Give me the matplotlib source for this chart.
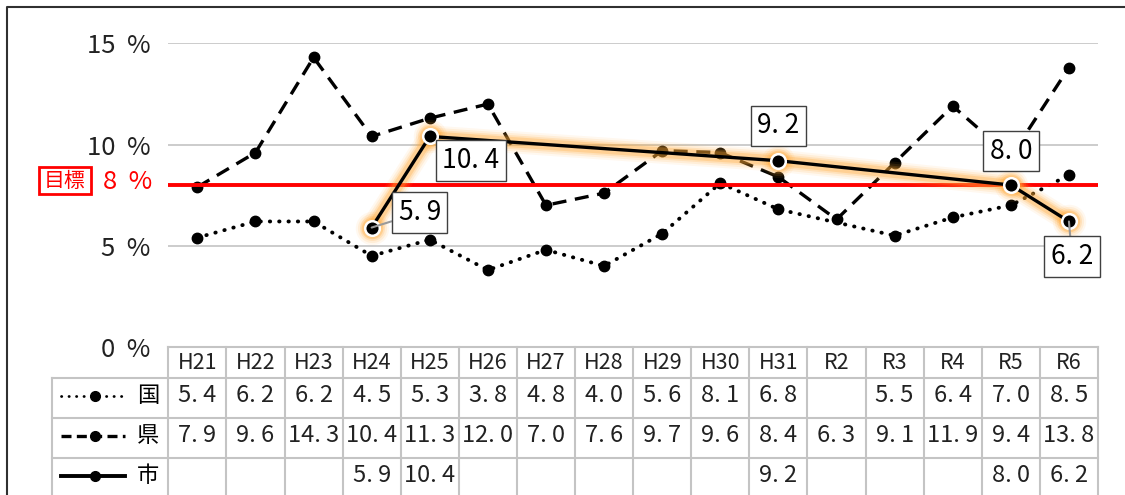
import matplotlib
matplotlib.use("Agg")
import matplotlib.pyplot as plt
from matplotlib.patches import Rectangle
from matplotlib.lines import Line2D
import numpy as np

# ---- data -------------------------------------------------------------
years = ["H21", "H22", "H23", "H24", "H25", "H26", "H27", "H28",
         "H29", "H30", "H31", "R2", "R3", "R4", "R5", "R6"]
kuni = [5.4, 6.2, 6.2, 4.5, 5.3, 3.8, 4.8, 4.0, 5.6, 8.1, 6.8,
        None, 5.5, 6.4, 7.0, 8.5]
ken = [7.9, 9.6, 14.3, 10.4, 11.3, 12.0, 7.0, 7.6, 9.7, 9.6, 8.4,
       6.3, 9.1, 11.9, 9.4, 13.8]
shi = [None, None, None, 5.9, 10.4, None, None, None, None, None, 9.2,
       None, None, None, 8.0, 6.2]
series_names = ["国", "県", "市"]
target = 8
y_ticks = [0, 5, 10, 15]

plt.rcParams["font.family"] = ["Noto Sans CJK JP", "DejaVu Sans"]

W, H = 1125, 495
fig = plt.figure(figsize=(W / 100, H / 100), dpi=100)


def fx(px):
    return px / W


def fy(py):
    return 1 - py / H


def fmt(v):
    return f"{v:.1f}".replace(".", ". ")


# plot area in pixels
X0, X1 = 168.3, 1098.0
Y0, Y15 = 347.0, 43.3
ax = fig.add_axes([fx(X0), fy(Y0), fx(X1) - fx(X0), fy(Y15) - fy(Y0)])
n = len(years)
x = np.arange(n)
ax.set_xlim(-0.5, n - 0.5)
ax.set_ylim(0, 15)
for s in ax.spines.values():
    s.set_visible(False)
ax.set_xticks([])
ax.set_yticks(y_ticks)
ax.set_yticklabels([f"{t}  %" for t in y_ticks], fontsize=18.5,
                   color="#222222")
ax.tick_params(axis="y", length=0, pad=13)
for t in y_ticks[1:]:
    ax.axhline(t, color="#c8c8c8", lw=1.3, zorder=1)
ax.set_facecolor("none")


def present(vals):
    idx = [i for i, v in enumerate(vals) if v is not None]
    return np.array(idx), np.array([vals[i] for i in idx])


# 国 (dotted)
kx, ky = present(kuni)
ax.plot(kx, ky, color="black", lw=2.8, linestyle=(0, (0.1, 2.3)),
        dash_capstyle="round", zorder=3)
ax.plot(kx, ky, "o", color="black", ms=7.5, zorder=4)

# 県 (dashed)
jx, jy = present(ken)
ax.plot(jx, jy, color="black", lw=2.4, linestyle=(0, (4.2, 2.6)), zorder=3)
ax.plot(jx, jy, "o", color="black", ms=7.5, zorder=4)

# target line
ax.axhline(target, color="#ff0000", lw=2.8, zorder=5)

# 市 (solid, with orange glow)
sx, sy = present(shi)
for lw, a in [(16, 0.08), (13, 0.12), (10, 0.18), (7.5, 0.28)]:
    ax.plot(sx, sy, color="#ffa733", lw=lw, alpha=a, solid_capstyle="round",
            solid_joinstyle="round", zorder=6)
    ax.plot(sx, sy, "o", color="#ffa733", ms=lw + 8, alpha=a, mew=0,
            zorder=6)
ax.plot(sx, sy, color="black", lw=2.4, zorder=7)
ax.plot(sx, sy, "o", color="black", mec="white", mew=1.8, ms=10.5, zorder=8)

# data labels for 市
label_offsets = {3: (48, 15), 4: (41, -24), 10: (0, 35), 14: (0, 34),
                 15: (3, -35)}
leaders = {3, 15}
for i, v in zip(sx, sy):
    dx, dy = label_offsets[int(i)]
    kw = {}
    if int(i) in leaders:
        kw["arrowprops"] = dict(arrowstyle="-", color="#9a9a9a", lw=1.5,
                                shrinkA=0, shrinkB=0)
    ax.annotate(fmt(v), (i, v), xytext=(dx, dy), textcoords="offset pixels",
                ha="center", va="center", fontsize=19, color="black",
                bbox=dict(boxstyle="square,pad=0.25", fc="white",
                          ec="#404040", lw=1.0),
                zorder=9, annotation_clip=False, **kw)

# target label
fig.text(fx(152), fy(182), "8  %", ha="right", va="center", fontsize=18.5,
         color="#ff0000")
fig.text(fx(64.5), fy(181), "目標", ha="center", va="center", fontsize=15,
         color="#ff0000")
fig.add_artist(Rectangle((fx(38.5), fy(194)), fx(90.5) - fx(38.5),
                         fy(166.5) - fy(194), fill=False, ec="#ff0000",
                         lw=2.0, transform=fig.transFigure))

# ---- data table -------------------------------------------------------
grid_c = "#c4c4c4"
col_w = (X1 - X0) / n
row_y = [347, 377.5, 417.5, 457.5, 497.5]
label_x0 = 51.7


def hline(y, xa, xb):
    fig.add_artist(Line2D([fx(xa), fx(xb)], [fy(y), fy(y)], color=grid_c,
                          lw=1.5, transform=fig.transFigure))


def vline(xp, ya, yb):
    fig.add_artist(Line2D([fx(xp), fx(xp)], [fy(ya), fy(yb)], color=grid_c,
                          lw=1.5, transform=fig.transFigure))


hline(row_y[0], X0, X1)
for y in row_y[1:4]:
    hline(y, label_x0, X1)
for k in range(n + 1):
    vline(X0 + k * col_w, row_y[0], row_y[4])
vline(label_x0, row_y[1], row_y[4])

for k, yr in enumerate(years):
    fig.text(fx(X0 + (k + 0.5) * col_w), fy((row_y[0] + row_y[1]) / 2 + 1),
             yr, ha="center", va="center", fontsize=15.5, color="#222222")

rows = [kuni, ken, shi]
for r, vals in enumerate(rows):
    yc = (row_y[r + 1] + row_y[r + 2]) / 2 - 2
    for k, v in enumerate(vals):
        if v is None:
            continue
        fig.text(fx(X0 + (k + 0.5) * col_w), fy(yc), fmt(v),
                 ha="center", va="center", fontsize=17, color="#222222")

# legend keys in the label column
styles = [dict(lw=2.0, linestyle=(0, (0.1, 2.6)), dash_capstyle="round"),
          dict(lw=2.4, linestyle=(0, (3.0, 1.6))),
          dict(lw=2.8, linestyle="-")]
for r, (name, st) in enumerate(zip(series_names, styles)):
    yc = (row_y[r + 1] + row_y[r + 2]) / 2 - 2
    fig.add_artist(Line2D([fx(61), fx(125)], [fy(yc), fy(yc)], color="black",
                          transform=fig.transFigure, **st))
    fig.add_artist(Line2D([fx(95)], [fy(yc)], marker="o", color="black",
                          ms=7, transform=fig.transFigure))
    fig.text(fx(148), fy(yc), name, ha="center", va="center", fontsize=16,
             color="black")

# outer frame (top and left edges)
fig.add_artist(Line2D([fx(7), fx(7), fx(1125)], [fy(500), fy(7), fy(7)],
                      color="#303030", lw=1.5, transform=fig.transFigure))

fig.savefig("out.png", dpi=100)
